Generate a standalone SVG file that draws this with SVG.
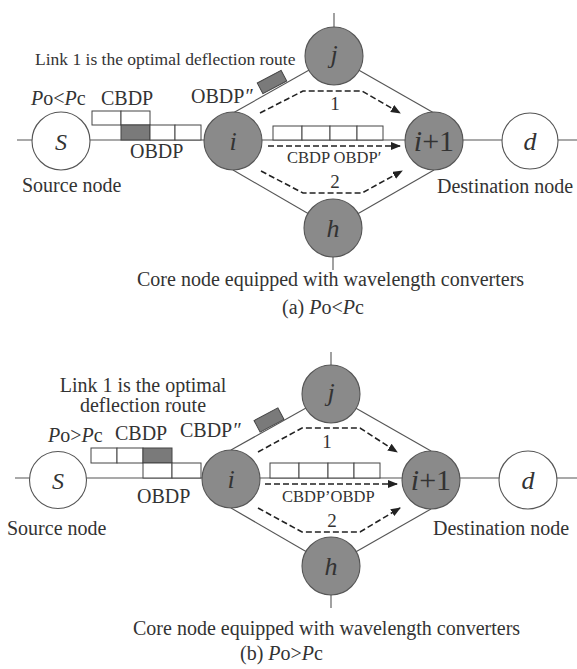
<svg xmlns="http://www.w3.org/2000/svg" width="577" height="669" viewBox="0 0 577 669">
<defs>
<style>
text{font-family:"Liberation Serif","Times New Roman",serif;fill:#333;}
.t20{font-size:20px;}
.it{font-style:italic;}
.lbl{font-size:26px;font-style:italic;text-anchor:middle;}
.ln{stroke:#555;stroke-width:1.1;fill:none;}
.core{fill:#8a8a8a;stroke:#555;stroke-width:1.1;}
.edge{fill:#fff;stroke:#555;stroke-width:1.1;}
.box{fill:#fff;stroke:#444;stroke-width:1;}
.gbox{fill:#7a7a7a;stroke:#444;stroke-width:1;}
.dash{stroke:#222;stroke-width:1.6;fill:none;stroke-dasharray:6 3;marker-end:url(#ah);}
</style>
<marker id="ah" markerUnits="userSpaceOnUse" markerWidth="10" markerHeight="8" refX="9" refY="4" orient="auto">
<path d="M0,0 L10,4 L0,8 z" fill="#222"/>
</marker>
</defs>
<rect width="577" height="669" fill="#fff"/>

<!-- ===== Panel (a) ===== -->
<g id="connectors-a">
<line class="ln" x1="17" y1="140" x2="577" y2="140"/>
<line class="ln" x1="233" y1="113" x2="334" y2="56"/>
<line class="ln" x1="334" y1="56" x2="434" y2="113"/>
<line class="ln" x1="233" y1="170" x2="333" y2="228"/>
<line class="ln" x1="333" y1="228" x2="434" y2="170"/>
<line class="ln" x1="334" y1="13" x2="334" y2="27"/>
<line class="ln" x1="333" y1="257" x2="333" y2="270"/>
<path class="dash" d="M260,113 L303,91 L362,91 L400,113"/>
<path class="dash" d="M268,146 L400,146"/>
<path class="dash" d="M261,171 L303,193 L362,193 L402,171"/>
</g>
<g id="packets-a">
<rect class="box" x="92" y="111" width="29" height="14"/>
<rect class="box" x="121" y="111" width="29" height="14"/>
<rect class="gbox" x="121" y="125" width="29" height="15"/>
<rect class="box" x="150" y="125" width="25" height="15"/>
<rect class="box" x="175" y="125" width="26" height="15"/>
<rect class="box" x="273" y="126" width="29" height="14"/>
<rect class="box" x="302" y="126" width="28" height="14"/>
<rect class="box" x="330" y="126" width="27" height="14"/>
<rect class="box" x="357" y="126" width="26" height="14"/>
<rect class="gbox" x="-13.5" y="-6" width="27" height="12" transform="translate(272,82) rotate(-28)"/>
</g>
<g id="node-S-a"><circle class="edge" cx="61" cy="141" r="29"/><text class="lbl" x="61" y="150" style="font-size:24px">S</text></g>
<g id="node-i-a"><circle class="core" cx="233" cy="141" r="29"/><text class="lbl" x="233" y="150">i</text></g>
<g id="node-j-a"><circle class="core" cx="334" cy="56" r="29"/><text class="lbl" x="334" y="63">j</text></g>
<g id="node-h-a"><circle class="core" cx="333" cy="228" r="29"/><text class="lbl" x="333" y="237">h</text></g>
<g id="node-i1-a"><circle class="core" cx="434" cy="141" r="29"/><text x="434" y="151" style="font-size:30px;text-anchor:middle"><tspan class="it">i</tspan>+1</text></g>
<g id="node-d-a"><circle class="edge" cx="530" cy="141" r="28"/><text class="lbl" x="530" y="150">d</text></g>
<g id="labels-a">
<text x="35" y="65" style="font-size:17.5px">Link 1 is the optimal deflection route</text>
<text class="t20" x="31" y="105"><tspan class="it">P</tspan>o&lt;<tspan class="it">P</tspan>c</text>
<text class="t20" x="101" y="105">CBDP</text>
<text class="t20" x="191" y="103">OBDP<tspan class="it">″</tspan></text>
<text class="t20" x="130" y="158">OBDP</text>
<text class="t20" x="22" y="192">Source node</text>
<text class="t20" x="437" y="193">Destination node</text>
<text x="335" y="110" style="font-size:19px;text-anchor:middle">1</text>
<text x="335" y="188" style="font-size:19px;text-anchor:middle">2</text>
<text x="287" y="163" style="font-size:16.5px">CBDP OBDP′</text>
<text class="t20" x="137" y="286">Core node equipped with wavelength converters</text>
<text class="t20" x="282" y="314">(a)  <tspan class="it">P</tspan>o&lt;<tspan class="it">P</tspan>c</text>
</g>

<!-- ===== Panel (b) ===== -->
<g id="connectors-b">
<line class="ln" x1="15" y1="478" x2="577" y2="478"/>
<line class="ln" x1="231" y1="450" x2="331" y2="394"/>
<line class="ln" x1="331" y1="394" x2="431" y2="451"/>
<line class="ln" x1="231" y1="508" x2="331" y2="566"/>
<line class="ln" x1="331" y1="566" x2="431" y2="509"/>
<line class="ln" x1="331" y1="352" x2="331" y2="365"/>
<line class="ln" x1="331" y1="595" x2="331" y2="608"/>
<path class="dash" d="M258,452 L302,428 L360,428 L397,452"/>
<path class="dash" d="M265,484 L397,484"/>
<path class="dash" d="M258,508 L302,532 L360,532 L400,508"/>
</g>
<g id="packets-b">
<rect class="box" x="91" y="448" width="26" height="15"/>
<rect class="box" x="117" y="448" width="26" height="15"/>
<rect class="gbox" x="143" y="448" width="29" height="15"/>
<rect class="box" x="143" y="463" width="29" height="15"/>
<rect class="box" x="172" y="463" width="29" height="15"/>
<rect class="box" x="270" y="463" width="29" height="15"/>
<rect class="box" x="299" y="463" width="29" height="15"/>
<rect class="box" x="328" y="463" width="26" height="15"/>
<rect class="box" x="354" y="463" width="26" height="15"/>
<rect class="gbox" x="-13.5" y="-6.5" width="27" height="13" transform="translate(269,420) rotate(-28)"/>
</g>
<g id="node-S-b"><circle class="edge" cx="58" cy="480" r="28.5"/><text class="lbl" x="58" y="489" style="font-size:24px">S</text></g>
<g id="node-i-b"><circle class="core" cx="231" cy="479" r="29"/><text class="lbl" x="231" y="488">i</text></g>
<g id="node-j-b"><circle class="core" cx="331" cy="394" r="29"/><text class="lbl" x="331" y="401">j</text></g>
<g id="node-h-b"><circle class="core" cx="331" cy="566" r="29"/><text class="lbl" x="331" y="575">h</text></g>
<g id="node-i1-b"><circle class="core" cx="431" cy="480" r="29"/><text x="431" y="490" style="font-size:30px;text-anchor:middle"><tspan class="it">i</tspan>+1</text></g>
<g id="node-d-b"><circle class="edge" cx="528" cy="480" r="29"/><text class="lbl" x="528" y="489">d</text></g>
<g id="labels-b">
<text class="t20" x="143" y="392" text-anchor="middle">Link 1 is the optimal</text>
<text class="t20" x="143" y="412" text-anchor="middle">deflection route</text>
<text class="t20" x="48" y="442"><tspan class="it">P</tspan>o&gt;<tspan class="it">P</tspan>c</text>
<text class="t20" x="115" y="440">CBDP</text>
<text class="t20" x="180" y="437">CBDP<tspan class="it">″</tspan></text>
<text class="t20" x="137" y="503">OBDP</text>
<text class="t20" x="7" y="535">Source node</text>
<text class="t20" x="433" y="535">Destination node</text>
<text x="327" y="448" style="font-size:19px;text-anchor:middle">1</text>
<text x="332" y="527" style="font-size:19px;text-anchor:middle">2</text>
<text x="282" y="502" style="font-size:16.5px">CBDP’OBDP</text>
<text class="t20" x="133" y="635">Core node equipped with wavelength converters</text>
<text class="t20" x="240" y="660">(b) <tspan class="it">P</tspan>o&gt;<tspan class="it">P</tspan>c</text>
</g>
</svg>
